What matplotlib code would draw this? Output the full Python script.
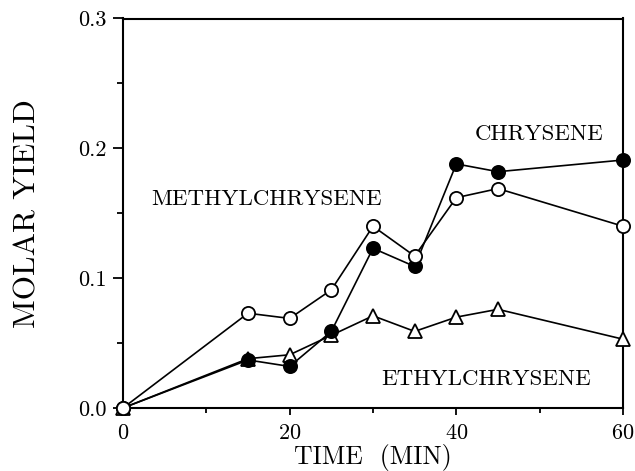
import matplotlib
matplotlib.use("Agg")
import matplotlib.pyplot as plt
from matplotlib.ticker import MultipleLocator, FormatStrFormatter

# Reaction time (min) and molar yields of the three products
time_min = [0, 15, 20, 25, 30, 35, 40, 45, 60]
chrysene = [0, 0.037, 0.032, 0.059, 0.123, 0.109, 0.188, 0.182, 0.191]
methylchrysene = [0, 0.073, 0.069, 0.091, 0.140, 0.117, 0.162, 0.169, 0.140]
ethylchrysene = [0, 0.038, 0.041, 0.056, 0.071, 0.059, 0.070, 0.076, 0.053]

x_ticks = [0, 20, 40, 60]
y_ticks = [0.0, 0.1, 0.2, 0.3]

plt.rcParams["font.family"] = ["cmr10", "DejaVu Serif"]
plt.rcParams["axes.formatter.use_mathtext"] = True

fig = plt.figure(figsize=(6.35, 4.71), dpi=100)
ax = fig.add_axes([123 / 635, 63 / 471, 500 / 635, 389.5 / 471])

line_kw = dict(color="black", lw=1.2, markeredgewidth=1.3, clip_on=False, zorder=3)
ax.plot(time_min, ethylchrysene, marker="^", ms=9.5, mfc="white", mec="black", **line_kw)
ax.plot(time_min, chrysene, marker="o", ms=9.5, mfc="black", mec="black", **line_kw)
ax.plot(time_min, methylchrysene, marker="o", ms=9.5, mfc="white", mec="black", **line_kw)

ax.set_xlim(0, 60)
ax.set_ylim(0, 0.3)
ax.set_xticks(x_ticks)
ax.set_yticks(y_ticks)
ax.xaxis.set_minor_locator(MultipleLocator(10))
ax.yaxis.set_minor_locator(MultipleLocator(0.05))
ax.yaxis.set_major_formatter(FormatStrFormatter("%.1f"))

for side in ax.spines.values():
    side.set_linewidth(1.5)

ax.tick_params(axis="x", which="major", direction="out", length=5, width=1.3,
               pad=6.5, labelsize=16)
ax.tick_params(axis="x", which="minor", direction="out", length=3.3, width=1.3)
ax.tick_params(axis="y", which="major", direction="out", length=7.5, width=1.3,
               pad=4.5, labelsize=16)
ax.tick_params(axis="y", which="minor", direction="out", length=4.3, width=1.3)

ax.set_xlabel("TIME  (MIN)", fontsize=18.5)
ax.xaxis.set_label_coords(0.5, -0.092)
ax.xaxis.label.set_va("top")
ax.set_ylabel("MOLAR YIELD", fontsize=22.5)
ax.yaxis.set_label_coords(-0.19, 0.5)
ax.yaxis.label.set_va("center")

ax.text(49.9, 0.211, "CHRYSENE", fontsize=16.5, ha="center", va="center")
ax.text(17.2, 0.161, "METHYLCHRYSENE", fontsize=16.5, ha="center", va="center")
ax.text(43.6, 0.022, "ETHYLCHRYSENE", fontsize=16.5, ha="center", va="center")

fig.savefig("out.png", dpi=100)
